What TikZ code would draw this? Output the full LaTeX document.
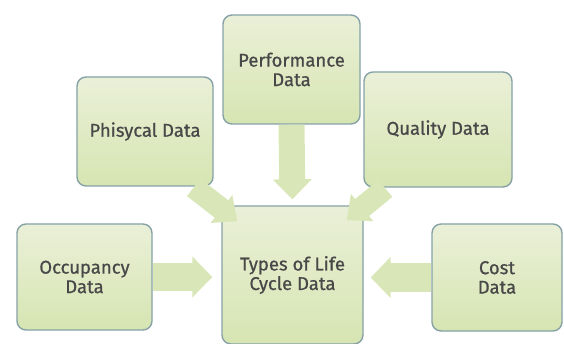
\documentclass[tikz,border=0pt]{standalone}
\usepackage{fontspec}
\setmainfont{Fira Sans}
\newfontfamily\boxfont{Fira Sans}[FakeBold=0.7]
\usetikzlibrary{arrows.meta,calc}
\definecolor{boxtop}{HTML}{EAF0D8}
\definecolor{boxbot}{HTML}{D6E5B2}
\definecolor{boxline}{HTML}{86A2A6}
\definecolor{arrowfill}{HTML}{D9E7B8}
\definecolor{txt}{HTML}{484848}
\tikzset{
  databox/.style={draw=boxline, line width=1.4pt, rounded corners=9pt,
    top color=boxtop, bottom color=boxbot, inner sep=0pt,
    align=center, text=txt, font=\boxfont\fontsize{18.5}{19.5}\selectfont},
  fatarrow/.style={draw=arrowfill, line width=#1, -{Triangle[width=#1+12pt,length=20pt]}},
  fatarrow/.default=26pt
}
\begin{document}
\begin{tikzpicture}[x=1pt,y=-1pt]
\useasboundingbox[fill=white] (0,0) rectangle (564,344);
\node[databox, minimum width=137pt, minimum height=109pt] (perf) at (291.5,69.5) {Performance\\Data};
\node[databox, minimum width=136pt, minimum height=109pt] (phys) at (145,131.5) {Phisycal Data};
\node[databox, minimum width=148pt, minimum height=115pt] (qual) at (438,129.5) {Quality Data};
\node[databox, minimum width=135pt, minimum height=106pt] (occ) at (84.5,277) {Occupancy\\Data};
\node[databox, minimum width=130pt, minimum height=107pt] (cost) at (497,277.5) {Cost\\Data};
\node[databox, minimum width=141pt, minimum height=138pt] (center) at (292.5,275) {Types of Life\\Cycle Data};
% connectors
\draw[fatarrow=26pt, shorten >=6pt] (perf.south) -- (center.north);
\draw[fatarrow=28pt, shorten >=9pt] (occ.east) -- (occ.east -| center.west);
\draw[fatarrow=28pt, shorten >=7pt] (cost.west) -- (cost.west -| center.east);
\coordinate (ptip) at ($(center.north west)+(16,16)$);
\coordinate (qtip) at ($(center.north east)+(-17,15)$);
\draw[fatarrow=22pt] ($(phys.south east)+(-20,0.7)$) -- (ptip);
\draw[fatarrow=22pt] ($(qual.south west)+(22,0.7)$) -- (qtip);
\end{tikzpicture}
\end{document}
